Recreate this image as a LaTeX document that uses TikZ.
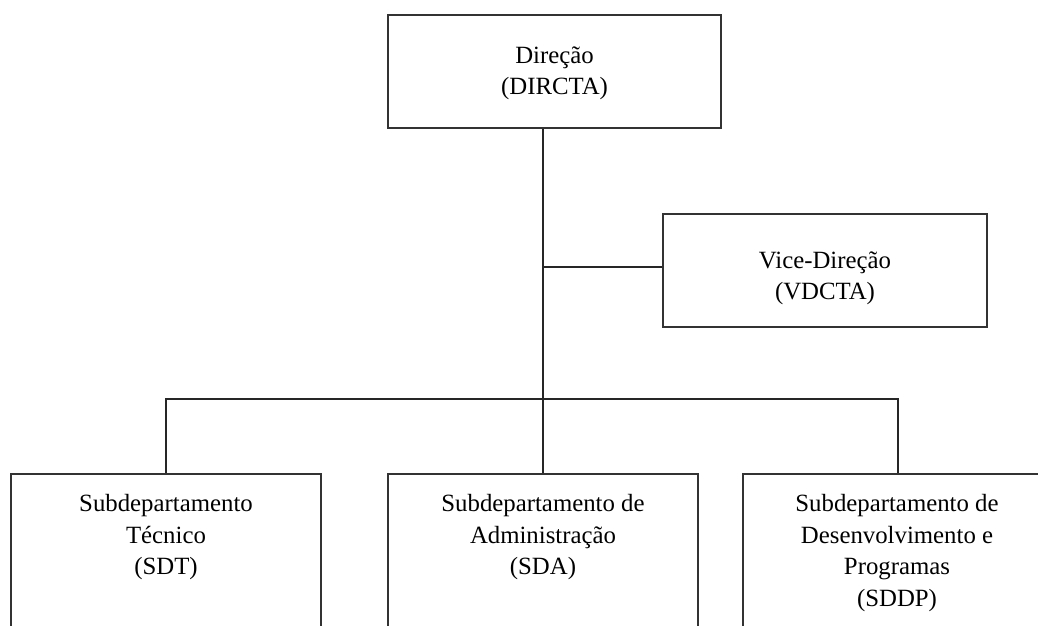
\documentclass[tikz,border=0pt]{standalone}
\usepackage{fontspec}
\setmainfont{Liberation Serif}
\begin{document}
\begin{tikzpicture}[x=1pt,y=-1pt,
  orgbox/.style={draw=black!80,line width=1.2pt,rectangle,inner sep=0pt},
  orgtext/.style={align=center,inner sep=0pt,font=\fontsize{24.8}{31.5}\selectfont},
  link/.style={draw=black!85,line width=1.2pt}]
\clip (0,0) rectangle (1038,626);
\node[orgbox,minimum width=333pt,minimum height=113pt] (dir) at (554.5,71.5) {};
\node[orgtext] (dirt) at ([yshift=-2pt]dir.center) {Direção\\(DIRCTA)};
\node[orgbox,minimum width=324pt,minimum height=113pt] (vice) at (825,270.5) {};
\node[orgtext] (vicet) at ([yshift=-8pt]vice.center) {Vice-Direção\\(VDCTA)};
\node[orgbox,minimum width=310pt,minimum height=206pt] (sdt) at (166,577) {};
\node[orgbox,minimum width=310pt,minimum height=206pt] (sda) at (543,577) {};
\node[orgbox,minimum width=308pt,minimum height=206pt] (sddp) at (897,577) {};
\node[orgtext,anchor=north] (sdtt) at ([yshift=-21pt]sdt.north) {Subdepartamento\\Técnico\\(SDT)};
\node[orgtext,anchor=north] (sdat) at ([yshift=-21pt]sda.north) {Subdepartamento de\\Administração\\(SDA)};
\node[orgtext,anchor=north] (sddpt) at ([yshift=-21pt]sddp.north) {Subdepartamento de\\Desenvolvimento e\\Programas\\(SDDP)};
\coordinate (bus) at (543,399);
\draw[link] (dir.south -| sda.north) -- (sda.north);
\draw[link] ([yshift=3.5pt]vice.west) -- ([yshift=3.5pt]vice.west -| sda.north);
\draw[link] (sdt.north) -- (sdt.north |- bus) -- ([xshift=1pt]sddp.north |- bus) -- ([xshift=1pt]sddp.north);
\end{tikzpicture}
\end{document}
